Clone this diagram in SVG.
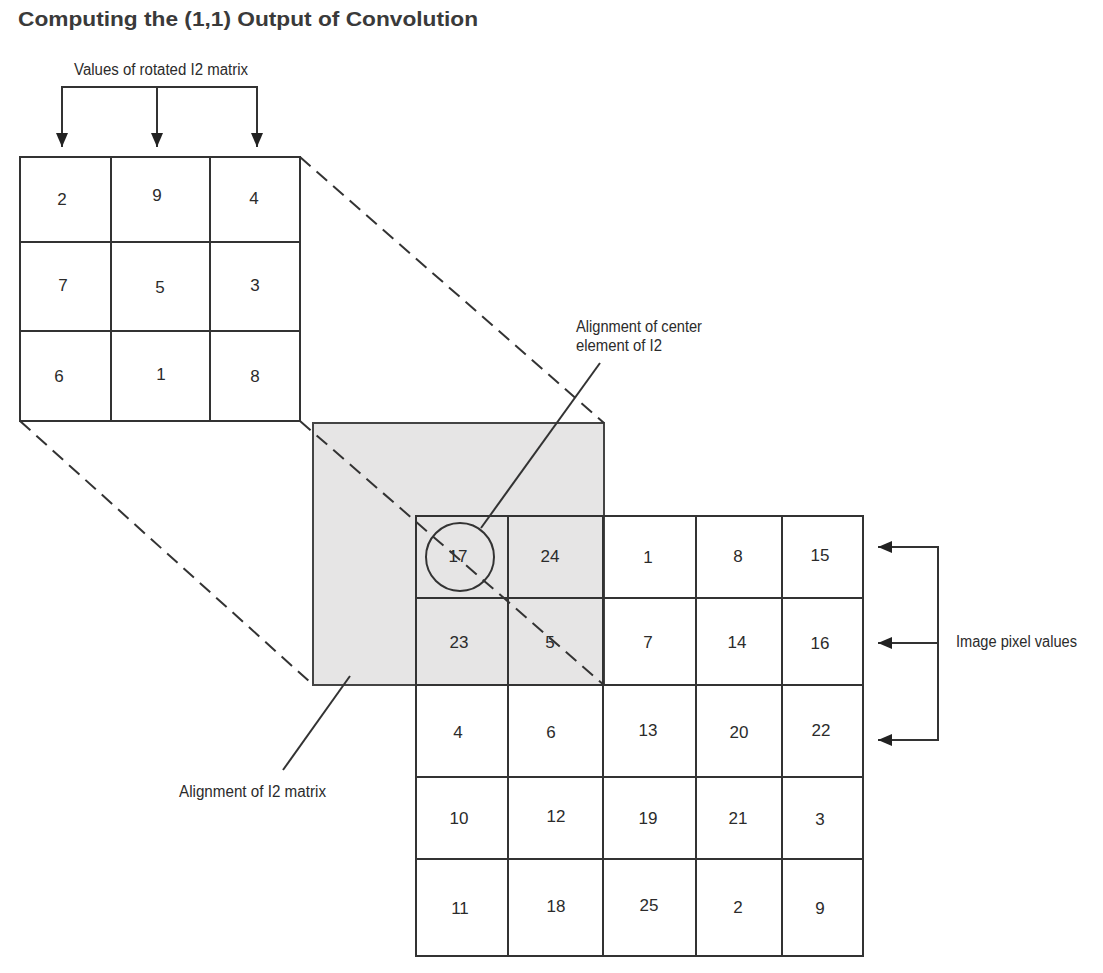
<svg xmlns="http://www.w3.org/2000/svg" width="1103" height="973" viewBox="0 0 1103 973">
<style>
.title{font-family:"Liberation Sans",Arial,sans-serif;font-weight:bold;font-size:20px;fill:#3a3a3a}
.lbl{font-family:"Liberation Sans Narrow","Liberation Sans",Arial,sans-serif;font-size:16px;fill:#2b2b2b}
.num{font-family:"Liberation Sans Narrow","Liberation Sans",Arial,sans-serif;font-size:17px;fill:#2b2b2b;text-anchor:middle}
.ln{stroke:#333;stroke-width:2;fill:none}
.dash{stroke:#333;stroke-width:2;fill:none;stroke-dasharray:14 8}
</style>
<defs>
<marker id="ah" markerUnits="userSpaceOnUse" markerWidth="16" markerHeight="14" refX="14" refY="6" orient="auto-start-reverse">
<path d="M0,0 L14,6 L0,12 Z" fill="#222"/>
</marker>
</defs>
<rect width="1103" height="973" fill="#fff"/>
<text class="title" x="18" y="26" textLength="460" lengthAdjust="spacingAndGlyphs">Computing the (1,1) Output of Convolution</text>

<g id="overlay">
<rect x="313" y="423" width="291" height="262" fill="#e6e5e5" stroke="#444" stroke-width="2"/>
</g>

<g id="kernel">
<rect x="20" y="157" width="280" height="264" class="ln"/>
<line x1="111" y1="157" x2="111" y2="421" class="ln"/>
<line x1="210" y1="157" x2="210" y2="421" class="ln"/>
<line x1="20" y1="242" x2="300" y2="242" class="ln"/>
<line x1="20" y1="331" x2="300" y2="331" class="ln"/>
<text class="num" x="62" y="205">2</text>
<text class="num" x="157" y="201">9</text>
<text class="num" x="254" y="204">4</text>
<text class="num" x="63" y="291">7</text>
<text class="num" x="160" y="293">5</text>
<text class="num" x="255" y="291">3</text>
<text class="num" x="59" y="382">6</text>
<text class="num" x="161" y="380">1</text>
<text class="num" x="255" y="382">8</text>
</g>

<g id="image">
<rect x="416" y="516" width="447" height="440" class="ln"/>
<line x1="508" y1="516" x2="508" y2="956" class="ln"/>
<line x1="603" y1="516" x2="603" y2="956" class="ln"/>
<line x1="696" y1="516" x2="696" y2="956" class="ln"/>
<line x1="782" y1="516" x2="782" y2="956" class="ln"/>
<line x1="416" y1="598" x2="863" y2="598" class="ln"/>
<line x1="416" y1="685" x2="863" y2="685" class="ln"/>
<line x1="416" y1="777" x2="863" y2="777" class="ln"/>
<line x1="416" y1="859" x2="863" y2="859" class="ln"/>
<text class="num" x="458" y="562">17</text>
<text class="num" x="550" y="562">24</text>
<text class="num" x="648" y="563">1</text>
<text class="num" x="738" y="562">8</text>
<text class="num" x="820" y="561">15</text>
<text class="num" x="459" y="648">23</text>
<text class="num" x="550" y="648">5</text>
<text class="num" x="648" y="648">7</text>
<text class="num" x="737" y="648">14</text>
<text class="num" x="820" y="649">16</text>
<text class="num" x="458" y="738">4</text>
<text class="num" x="551" y="738">6</text>
<text class="num" x="648" y="736">13</text>
<text class="num" x="739" y="738">20</text>
<text class="num" x="821" y="736">22</text>
<text class="num" x="459" y="824">10</text>
<text class="num" x="556" y="822">12</text>
<text class="num" x="648" y="824">19</text>
<text class="num" x="738" y="824">21</text>
<text class="num" x="820" y="825">3</text>
<text class="num" x="460" y="914">11</text>
<text class="num" x="556" y="912">18</text>
<text class="num" x="649" y="911">25</text>
<text class="num" x="738" y="913">2</text>
<text class="num" x="820" y="914">9</text>
</g>

<g id="center-mark">
<circle cx="460" cy="557" r="34" class="ln"/>
</g>

<g id="connectors">
<line x1="300" y1="157" x2="604" y2="423" class="dash"/>
<line x1="20" y1="421" x2="311" y2="683" class="dash"/>
<line x1="300" y1="421" x2="604" y2="685" class="dash"/>
<line x1="600" y1="363" x2="481" y2="528" class="ln"/>
<line x1="350" y1="676" x2="283" y2="770" class="ln"/>
<polyline points="62,147 62,87 257,87 257,147" class="ln" marker-start="url(#ah)" marker-end="url(#ah)"/>
<line x1="157" y1="87" x2="157" y2="147" class="ln" marker-end="url(#ah)"/>
<polyline points="878,547 938,547 938,740 878,740" class="ln" marker-start="url(#ah)" marker-end="url(#ah)"/>
<line x1="938" y1="643" x2="878" y2="643" class="ln" marker-end="url(#ah)"/>
</g>

<g id="labels">
<text class="lbl" x="74" y="75" textLength="174" lengthAdjust="spacingAndGlyphs">Values of rotated I2 matrix</text>
<text class="lbl" x="576" y="332" textLength="126" lengthAdjust="spacingAndGlyphs">Alignment of center</text>
<text class="lbl" x="576" y="351" textLength="86" lengthAdjust="spacingAndGlyphs">element of I2</text>
<text class="lbl" x="179" y="797" textLength="147" lengthAdjust="spacingAndGlyphs">Alignment of I2 matrix</text>
<text class="lbl" x="956" y="647" textLength="121" lengthAdjust="spacingAndGlyphs">Image pixel values</text>
</g>
</svg>
